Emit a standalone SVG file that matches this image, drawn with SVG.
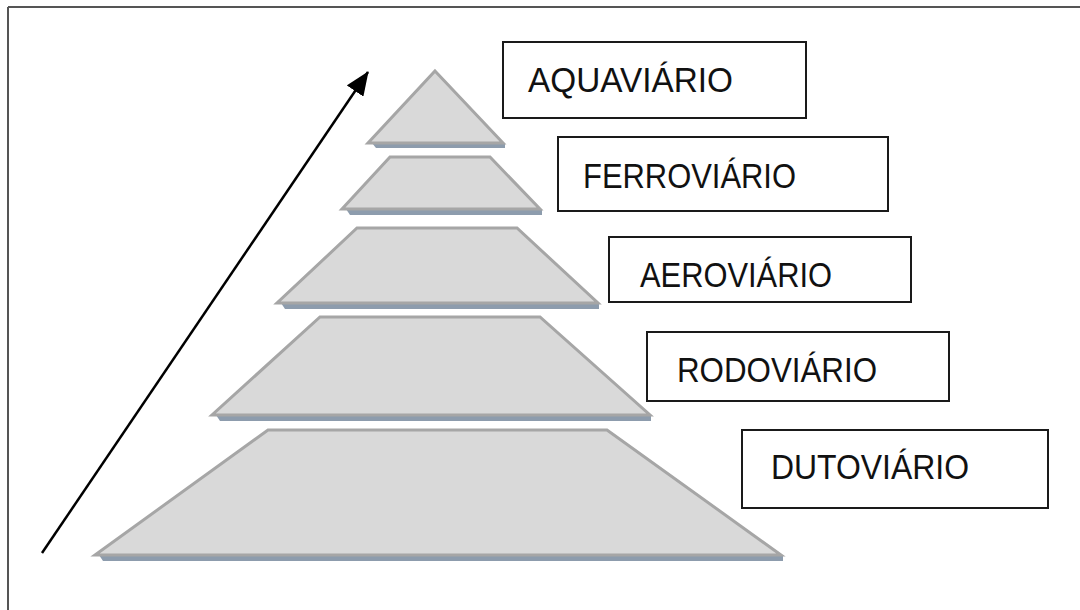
<svg xmlns="http://www.w3.org/2000/svg" width="1080" height="610" viewBox="0 0 1080 610">
<style>
.tier{fill:#d9d9d9;stroke:#a6a6a6;stroke-width:3;stroke-linejoin:miter}
.shadow{fill:#8d9cad}
.box{fill:#ffffff;stroke:#1a1a1a;stroke-width:2}
.lbl{font-family:"Liberation Sans",Arial,sans-serif;font-size:35px;fill:#111111}
</style>
<defs>
<marker id="ah2" viewBox="0 0 24 20" refX="23" refY="10" markerWidth="24" markerHeight="20" markerUnits="userSpaceOnUse" orient="auto">
<path d="M0,0 L24,10 L0,20 z" fill="#000"/>
</marker>
</defs>
<rect width="1080" height="610" fill="#ffffff"/>
<g id="frame" stroke="#555555" stroke-width="2" fill="none">
<line x1="8" y1="7" x2="1080" y2="7"/>
<line x1="8" y1="7" x2="8" y2="610"/>
</g>
<g id="tier1">
<polygon class="shadow" points="372,143 505,143 505,148 376,148"/>
<polygon class="tier" points="435,71 503,143 368,143"/>
</g>
<g id="tier2">
<polygon class="shadow" points="346,209 542,209 542,215 350,215"/>
<polygon class="tier" points="390,157 490,157 540,209 342,209"/>
</g>
<g id="tier3">
<polygon class="shadow" points="281,303 599,303 599,309 285,309"/>
<polygon class="tier" points="357,228 517,228 598,303 277,303"/>
</g>
<g id="tier4">
<polygon class="shadow" points="216,415 651,415 651,421 220,421"/>
<polygon class="tier" points="320,317 540,317 650,415 212,415"/>
</g>
<g id="tier5">
<polygon class="shadow" points="99,555 783,555 783,561 103,561"/>
<polygon class="tier" points="268,430 607,430 781,555 95,555"/>
</g>
<g id="connectors">
<line x1="42" y1="553" x2="368" y2="72" stroke="#000" stroke-width="2.5" marker-end="url(#ah2)"/>
</g>
<g id="aquaviario">
<rect class="box" x="503" y="42" width="303" height="76"/>
<text class="lbl" x="528" y="92" textLength="205" lengthAdjust="spacingAndGlyphs">AQUAVIÁRIO</text>
</g>
<g id="ferroviario">
<rect class="box" x="558" y="137" width="330" height="74"/>
<text class="lbl" x="583" y="188" textLength="213" lengthAdjust="spacingAndGlyphs">FERROVIÁRIO</text>
</g>
<g id="aeroviario">
<rect class="box" x="609" y="237" width="302" height="65"/>
<text class="lbl" x="640" y="287" textLength="192" lengthAdjust="spacingAndGlyphs">AEROVIÁRIO</text>
</g>
<g id="rodoviario">
<rect class="box" x="647" y="332" width="302" height="69"/>
<text class="lbl" x="677" y="382" textLength="200" lengthAdjust="spacingAndGlyphs">RODOVIÁRIO</text>
</g>
<g id="dutoviario">
<rect class="box" x="742" y="430" width="306" height="78"/>
<text class="lbl" x="771" y="479" textLength="198" lengthAdjust="spacingAndGlyphs">DUTOVIÁRIO</text>
</g>
</svg>
